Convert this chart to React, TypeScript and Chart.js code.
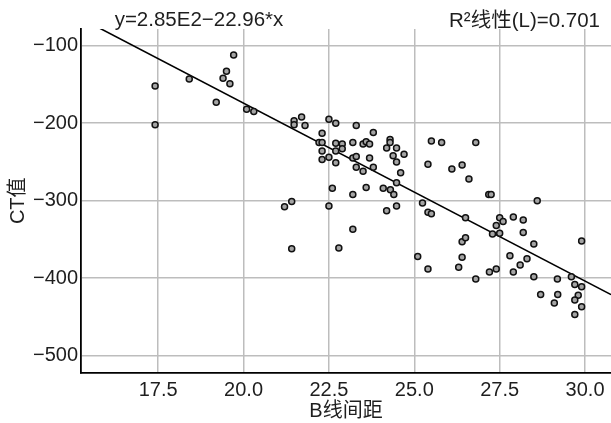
import React, { useEffect, useRef } from 'react';
import { Chart, registerables } from 'chart.js';

Chart.register(...registerables);

// ---- data ----
const xValues = [
  17.41, 17.41, 18.41, 19.2, 19.4, 19.5, 19.6, 19.71, 20.09, 20.3,
  21.48, 21.48, 21.7, 21.8, 22.5, 22.7, 23.3, 22.3, 22.21, 22.3,
  22.3, 22.3, 22.5, 22.7, 22.89, 22.89, 22.7, 22.7, 23.2, 23.2,
  23.3, 23.3, 23.5, 23.59, 23.69, 23.5, 23.69, 23.8, 23.8, 22.6,
  23.2, 23.59, 24.09, 24.29, 24.29, 24.19, 24.48, 24.38, 24.48, 24.3,
  24.4, 24.48, 24.7, 24.6, 21.2, 21.41, 22.5, 23.2, 21.41, 22.79,
  24.19, 24.48, 25.5, 25.8, 26.8, 25.4, 26.1, 26.4, 26.6, 27.18,
  27.25, 28.6, 25.24, 25.4, 25.5, 26.5, 27.5, 27.6, 27.9, 28.19,
  27.4, 27.29, 27.5, 28.19, 28.5, 29.9, 26.4, 26.5, 25.1, 26.4,
  27.8, 28.3, 28.1, 25.4, 26.3, 27.2, 27.4, 27.9, 26.8, 28.5,
  29.19, 29.6, 28.7, 29.2, 29.1, 29.7, 29.9, 29.8, 29.7, 29.9,
  29.7,
];
const yValues = [
  -152, -202, -143, -173, -142, -133, -149, -112, -182, -185,
  -197, -202, -192, -203, -195, -200, -203, -213, -225, -225,
  -236, -247, -244, -226, -227, -233, -236, -251, -225, -245,
  -243, -257, -227, -224, -227, -262, -245, -212, -257, -284,
  -292, -283, -284, -221, -225, -232, -232, -242, -250, -286,
  -292, -277, -240, -264, -308, -301, -307, -337, -362, -361,
  -313, -307, -223, -225, -225, -253, -259, -254, -272, -292,
  -292, -300, -303, -315, -317, -322, -322, -327, -321, -325,
  -332, -343, -342, -341, -356, -352, -353, -348, -372, -373,
  -371, -375, -383, -388, -386, -392, -388, -392, -401, -398,
  -401, -398, -421, -421, -432, -408, -411, -422, -428, -437,
  -447,
];
const xTicks = [17.5, 20.0, 22.5, 25.0, 27.5, 30.0];
const yTicks = [-500, -400, -300, -200, -100];
const xRange = [15.24, 30.76];
const yRange = [-521.7, -78.5];
const fitIntercept = 285;
const fitSlope = -22.96;
const equationLabel = 'y=2.85E2\u221222.96*x';
const r2Label = 'R\u00B2线性(L)=0.701';
const xTitle = 'B线间距';
const yTitle = 'CT值';

const FONT = "'Liberation Sans', Arial, 'Noto Sans CJK SC', sans-serif";
const TEXT = '#1e1e1e';

const labelsPlugin = {
  id: 'fitLabels',
  afterDraw(chart: any) {
    const ctx = chart.ctx;
    ctx.save();
    ctx.font = `20.5px ${FONT}`;
    ctx.fillStyle = TEXT;
    ctx.textBaseline = 'alphabetic';
    ctx.textAlign = 'center';
    ctx.fillText(equationLabel, 199, 26);
    ctx.textAlign = 'right';
    ctx.fillText(r2Label, 600, 27);
    ctx.restore();
  },
};

export default function App() {
  const ref = useRef<HTMLCanvasElement | null>(null);

  useEffect(() => {
    if (!ref.current) return;
    const points = xValues.map((x, i) => ({ x, y: yValues[i] }));
    const fit = xRange.map((x) => ({ x, y: fitIntercept + fitSlope * x }));
    const chart = new Chart(ref.current, {
      type: 'scatter',
      data: {
        datasets: [
          {
            type: 'line',
            data: fit,
            borderColor: '#000',
            borderWidth: 1.6,
            pointRadius: 0,
            fill: false,
            order: 2,
          } as any,
          {
            data: points,
            backgroundColor: '#a4a4a4',
            borderColor: '#111',
            borderWidth: 1.5,
            pointRadius: 3,
            order: 1,
          },
        ],
      },
      options: {
        responsive: false,
        animation: false,
        layout: { autoPadding: false, padding: { top: 29, right: 0, left: 0, bottom: 0 } },
        plugins: { legend: { display: false }, tooltip: { enabled: false } },
        scales: {
          x: {
            type: 'linear',
            min: xRange[0],
            max: xRange[1],
            afterBuildTicks: (s: any) => {
              s.ticks = xTicks.map((v) => ({ value: v }));
            },
            afterFit: (s: any) => {
              s.height = 50.5;
              s.paddingLeft = 0;
              s.paddingRight = 0;
            },
            grid: { color: '#bdbdbd', lineWidth: 1.5, drawTicks: false },
            border: { color: '#000', width: 1.8 },
            ticks: {
              color: TEXT,
              font: { family: FONT, size: 20 },
              padding: 6,
              maxRotation: 0,
              callback: (v: any) => Number(v).toFixed(1),
            },
            title: {
              display: true,
              text: xTitle,
              color: TEXT,
              font: { family: FONT, size: 20 },
              padding: { top: 0, bottom: 0 },
            },
          },
          y: {
            type: 'linear',
            min: yRange[0],
            max: yRange[1],
            afterBuildTicks: (s: any) => {
              s.ticks = yTicks.map((v) => ({ value: v }));
            },
            afterFit: (s: any) => {
              s.width = 81;
              s.paddingTop = 0;
              s.paddingBottom = 0;
            },
            grid: { color: '#bdbdbd', lineWidth: 1.5, drawTicks: false },
            border: { color: '#000', width: 1.8 },
            ticks: {
              color: TEXT,
              font: { family: FONT, size: 20 },
              padding: 3,
              callback: (v: any) => String(v).replace('-', '\u2212'),
            },
            title: {
              display: true,
              text: yTitle,
              color: TEXT,
              font: { family: FONT, size: 20 },
              padding: { top: 6, bottom: 0 },
            },
          },
        },
      },
      plugins: [labelsPlugin],
    });
    return () => chart.destroy();
  }, []);

  return (
    <div style={{ position: 'fixed', left: 0, top: 0, width: 611, height: 423, background: '#fff' }}>
      <canvas ref={ref} width={611} height={423} style={{ display: 'block' }} />
    </div>
  );
}
